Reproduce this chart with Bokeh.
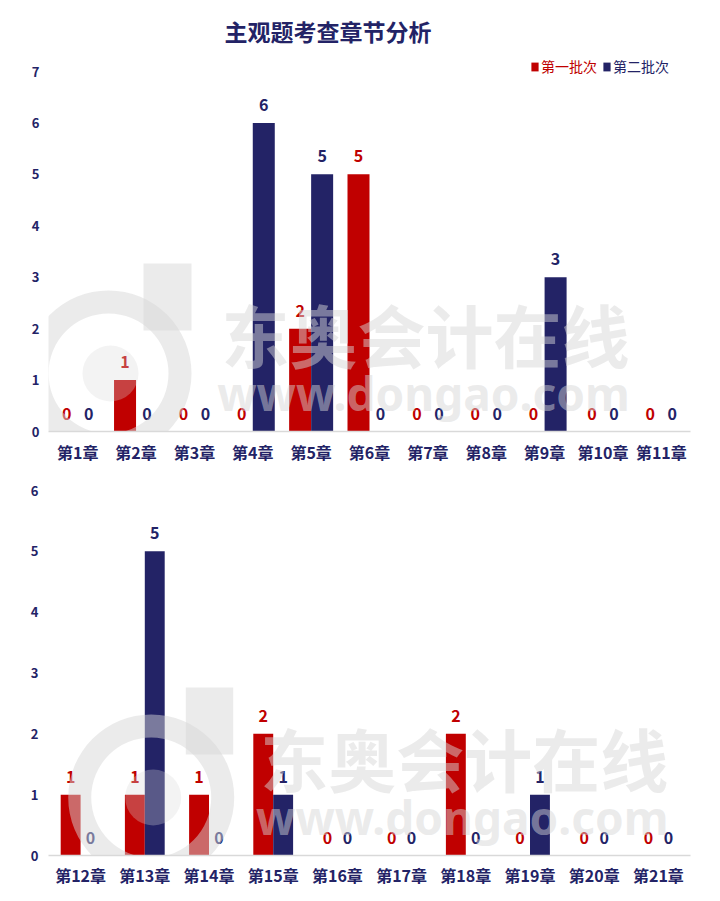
from bokeh.plotting import figure
from bokeh.models import (ColumnDataSource, Range1d, Legend, LegendItem,
                          FixedTicker)
from bokeh.transform import dodge
from bokeh.layouts import column
from bokeh.embed import file_html
from bokeh.resources import INLINE
from bokeh.core.properties import value

# ---------------- data ----------------
title_text = "主观题考查章节分析"
series_names = ["第一批次", "第二批次"]

chapters_a = ["第1章", "第2章", "第3章", "第4章", "第5章", "第6章",
              "第7章", "第8章", "第9章", "第10章", "第11章"]
batch1_a = [0, 1, 0, 0, 2, 5, 0, 0, 0, 0, 0]
batch2_a = [0, 0, 0, 6, 5, 0, 0, 0, 3, 0, 0]
yticks_a = [0, 1, 2, 3, 4, 5, 6, 7]

chapters_b = ["第12章", "第13章", "第14章", "第15章", "第16章",
              "第17章", "第18章", "第19章", "第20章", "第21章"]
batch1_b = [1, 1, 1, 2, 0, 0, 2, 0, 0, 0]
batch2_b = [0, 5, 0, 1, 0, 0, 0, 1, 0, 0]
yticks_b = [0, 1, 2, 3, 4, 5, 6]

watermark_cn = "东奥会计在线"
watermark_en = "www.dongao.com"

# ---------------- style ----------------
FONT = "Noto Sans CJK SC"
RED = "#C00000"
NAVY = "#232366"
AXIS_GREY = "#D9D9D9"
WM_COLOR = "#D6D6D6"
WM_ALPHA = 0.49


def make_panel(chapters, b1, b2, yticks, yend, width, height, borders, bar_w,
               wm_xr, wm_yr, wm_dx, wm_dy, x_standoff, y_standoff):
    n = len(chapters)
    pos = [i + 0.5 for i in range(n)]
    src = ColumnDataSource(dict(pos=pos, chapter=chapters, b1=b1, b2=b2,
                                t1=[str(v) for v in b1], t2=[str(v) for v in b2]))
    p = figure(x_range=Range1d(0, n), y_range=Range1d(0, yend),
               width=width, height=height, output_backend="svg",
               toolbar_location=None,
               min_border_left=borders[0], min_border_right=borders[1],
               min_border_top=borders[2], min_border_bottom=borders[3])
    p.outline_line_color = None
    p.xgrid.visible = False
    p.ygrid.visible = False
    p.background_fill_color = "white"
    p.border_fill_color = "white"

    off = bar_w / 2
    r1 = p.vbar(x=dodge("pos", -off), top="b1", bottom=0,
                width=bar_w, source=src, fill_color=RED, line_color=None)
    r2 = p.vbar(x=dodge("pos", off), top="b2", bottom=0,
                width=bar_w, source=src, fill_color=NAVY, line_color=None)

    common = dict(source=src, text_font=value(FONT), text_font_size="16px",
                  text_font_style="bold", text_align="center",
                  text_baseline="middle", y_offset=-18)
    p.text(x=dodge("pos", -off), y="b1", text="t1", text_color=RED, **common)
    p.text(x=dodge("pos", off), y="b2", text="t2", text_color=NAVY, **common)

    # axes
    xa = p.xaxis[0]
    xa.ticker = FixedTicker(ticks=pos)
    xa.major_label_overrides = {x: c for x, c in zip(pos, chapters)}
    xa.axis_line_color = AXIS_GREY
    xa.axis_line_width = 1.5
    xa.major_tick_line_color = None
    xa.minor_tick_line_color = None
    xa.major_tick_out = 0
    xa.major_tick_in = 0
    xa.major_label_text_font = FONT
    xa.major_label_text_font_size = "16px"
    xa.major_label_text_font_style = "bold"
    xa.major_label_text_color = NAVY
    xa.major_label_standoff = x_standoff

    ya = p.yaxis[0]
    ya.ticker = FixedTicker(ticks=yticks)
    ya.axis_line_color = None
    ya.major_tick_line_color = None
    ya.minor_tick_line_color = None
    ya.major_tick_out = 0
    ya.major_tick_in = 0
    ya.major_label_text_font = FONT
    ya.major_label_text_font_size = "13px"
    ya.major_label_text_font_style = "bold"
    ya.major_label_text_color = NAVY
    ya.major_label_standoff = y_standoff

    # watermark (decoration, in page pixel space via extra ranges)
    p.extra_x_ranges = {"wm": Range1d(*wm_xr)}
    p.extra_y_ranges = {"wm": Range1d(*wm_yr)}
    wm = dict(x_range_name="wm", y_range_name="wm")
    p.annulus(x=[108 + wm_dx], y=[373 + wm_dy], inner_radius=60, outer_radius=83,
              inner_radius_units="screen", outer_radius_units="screen",
              fill_color=WM_COLOR, fill_alpha=WM_ALPHA,
              line_color=None, **wm)
    p.quad(left=[143 + wm_dx], right=[191 + wm_dx], top=[263 + wm_dy],
           bottom=[330 + wm_dy], fill_color=WM_COLOR, fill_alpha=WM_ALPHA,
           line_color=None, **wm)
    p.scatter(x=[110 + wm_dx], y=[373 + wm_dy], size=56, marker="circle",
              fill_color=WM_COLOR, fill_alpha=0.3, line_color=None, **wm)
    p.text(x=[425 + wm_dx], y=[333 + wm_dy], text=[watermark_cn],
           text_font=value(FONT), text_font_size="68px", text_font_style="bold",
           text_align="center", text_baseline="middle",
           text_color=WM_COLOR, text_alpha=WM_ALPHA, **wm)
    p.text(x=[423 + wm_dx], y=[392 + wm_dy], text=[watermark_en],
           text_font=value("Noto Sans"), text_font_size="46px", text_font_style="bold",
           text_align="center", text_baseline="middle",
           text_color=WM_COLOR, text_alpha=WM_ALPHA, **wm)
    return p, r1, r2


# top panel: page x 48..690, frame y 55..431
top, t1, t2 = make_panel(chapters_a, batch1_a, batch2_a, yticks_a,
                         7 * 376 / 360, 720, 474, (48, 30, 55, 43), 0.377,
                         (48, 690), (431, 55), 0, 0, 8, 9)
top.title.text = title_text
top.title.align = "left"
top.title.offset = 176
top.title.text_font = FONT
top.title.text_font_size = "23px"
top.title.text_font_style = "bold"
top.title.text_color = NAVY
top.title.standoff = 16

for item_name, rend, col, xloc in [(series_names[0], t1, RED, 482),
                                   (series_names[1], t2, NAVY, 554)]:
    leg = Legend(items=[LegendItem(label=item_name, renderers=[rend])],
                 location=(xloc, 355), orientation="horizontal", padding=0,
                 margin=0, border_line_color=None, background_fill_alpha=0,
                 label_text_color=col, label_text_font=FONT,
                 label_text_font_size="14px", glyph_width=9, glyph_height=11,
                 label_standoff=2, label_height=20)
    top.add_layout(leg)

# bottom panel: page x 45..695, frame y 482..855 (figure starts at page y 474)
bottom, _, _ = make_panel(chapters_b, batch1_b, batch2_b, yticks_b,
                          6 * 373 / 365, 720, 425, (45, 25, 8, 44), 0.31,
                          (45, 695), (855, 482), 41, 424, 7, 10)

layout = column(top, bottom, spacing=0)

with open("out.html", "w") as f:
    f.write(file_html(layout, INLINE))
